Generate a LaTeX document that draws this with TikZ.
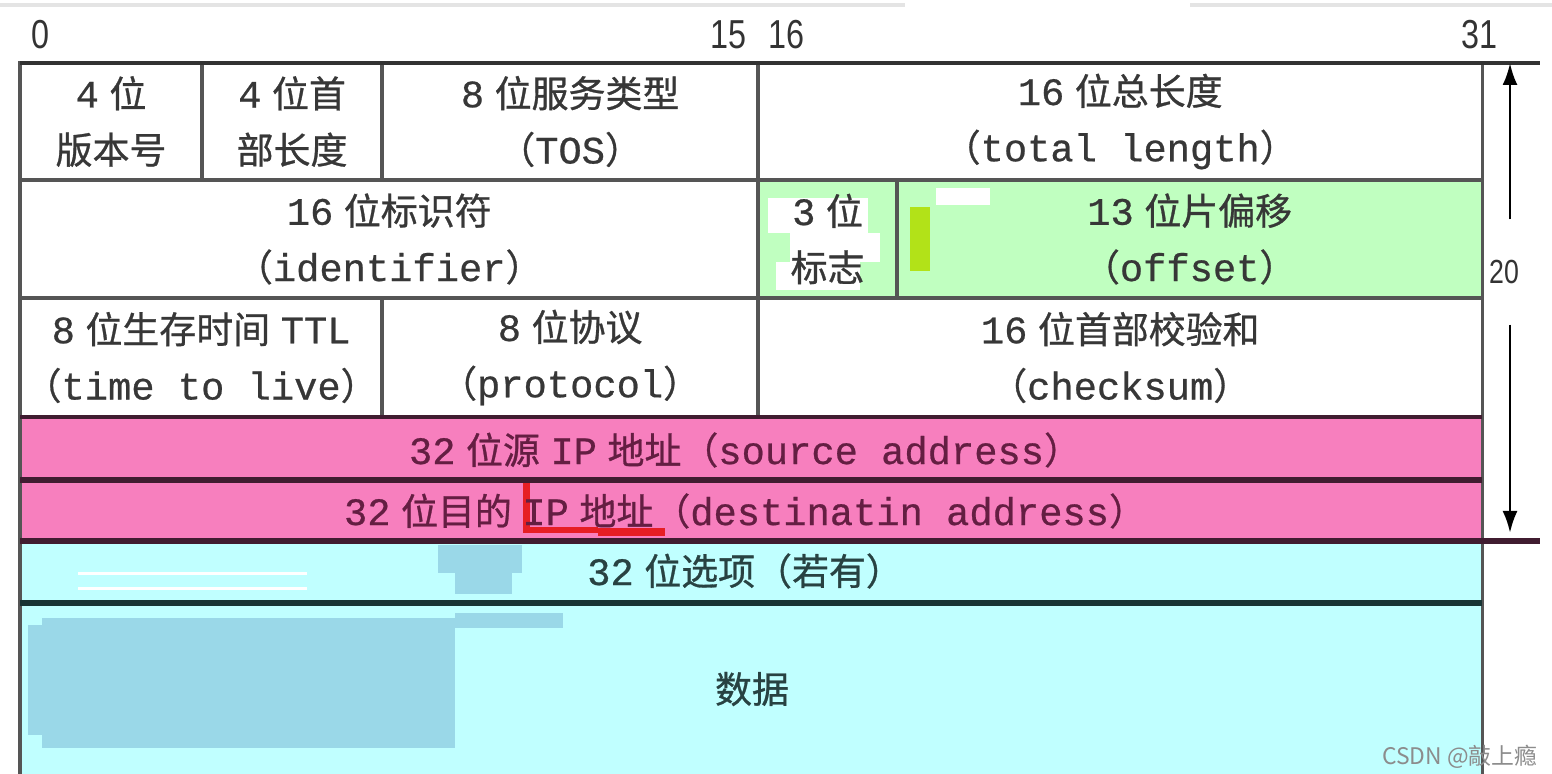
\documentclass[tikz,border=0pt]{standalone}
\usepackage{fontspec}
\setmainfont[Scale=1.05,FakeBold=0.6]{Liberation Mono}
\newfontfamily\cjk[FakeBold=0.8]{Noto Sans CJK SC}
\newfontfamily\cjkplain{Noto Sans CJK SC}
\newfontfamily\numf[FakeStretch=0.8]{Liberation Sans}
\usetikzlibrary{arrows.meta}
\newcommand{\zh}[1]{{\cjk #1}}
\newcommand{\gap}{\hspace{3pt}}
\definecolor{cellline}{RGB}{85,85,85}
\definecolor{darkline}{RGB}{50,50,50}
\definecolor{pinkline}{RGB}{64,28,48}
\definecolor{cyanline}{RGB}{24,52,52}
\definecolor{greenfill}{RGB}{192,255,192}
\definecolor{pinkfill}{RGB}{247,127,190}
\definecolor{cyanfill}{RGB}{192,255,255}
\definecolor{blobblue}{RGB}{154,216,232}
\definecolor{limefill}{RGB}{178,226,24}
\definecolor{redmark}{RGB}{230,30,36}
\definecolor{txtgray}{RGB}{55,55,55}
\definecolor{txtpink}{RGB}{100,30,66}
\definecolor{txtcyan}{RGB}{40,66,66}
\definecolor{faint}{RGB}{228,228,228}
\begin{document}
\begin{tikzpicture}[x=0.01cm,y=-0.01cm,
  cellbox/.style={draw=cellline, line width=0.9pt, anchor=north west, inner sep=0pt, outer sep=0pt},
  lbl/.style={align=center, font=\fontsize{10.5}{16}\selectfont, text=txtgray, inner sep=0pt},
  pinklbl/.style={lbl, text=txtpink},
  cyanlbl/.style={lbl, text=txtcyan},
  bitnum/.style={font=\numf\fontsize{11.5}{12}\selectfont, text=black!80, inner sep=0pt},
  arrowline/.style={black, line width=0.8pt, -{Latex[length=0.22cm, width=0.15cm]}}]
\useasboundingbox (0,0) rectangle (1552,774);
\fill[white] (0,0) rectangle (1552,774);
% faint top line
\draw[faint, line width=1pt] (0,5) -- (905,5);
\draw[faint, line width=1pt] (1190,5) -- (1552,5);

% bit numbers
\node[bitnum] (b0) at (40,35) {0};
\node[bitnum] (b15) at (728,35) {15};
\node[bitnum] (b16) at (786,35) {16};
\node[bitnum] (b31) at (1479,35) {31};

% row 1
\node[cellbox, minimum width=1.82cm, minimum height=1.17cm] (ver) at (20,63) {};
\node[cellbox, minimum width=1.80cm, minimum height=1.17cm] (ihl) at (202,63) {};
\node[cellbox, minimum width=3.76cm, minimum height=1.17cm] (tos) at (382,63) {};
\node[cellbox, minimum width=7.24cm, minimum height=1.17cm] (tlen) at (758,63) {};
% row 2
\node[cellbox, minimum width=7.38cm, minimum height=1.18cm] (ident) at (20,180) {};
\node[cellbox, fill=greenfill, minimum width=1.39cm, minimum height=1.18cm] (flags) at (758,180) {};
\node[cellbox, fill=greenfill, minimum width=5.85cm, minimum height=1.18cm] (offs) at (897,180) {};
% row 3
\node[cellbox, minimum width=3.62cm, minimum height=1.19cm] (ttl) at (20,298) {};
\node[cellbox, minimum width=3.76cm, minimum height=1.19cm] (proto) at (382,298) {};
\node[cellbox, minimum width=7.24cm, minimum height=1.19cm] (csum) at (758,298) {};
% rows 4-7
\node[cellbox, fill=pinkfill, minimum width=14.62cm, minimum height=0.63cm] (src) at (20,417) {};
\node[cellbox, fill=pinkfill, minimum width=14.62cm, minimum height=0.61cm] (dst) at (20,480) {};
\node[cellbox, fill=cyanfill, minimum width=14.62cm, minimum height=0.62cm] (opt) at (20,541) {};
\node[cellbox, fill=cyanfill, minimum width=14.62cm, minimum height=1.90cm] (data) at (20,603) {};

% heavier separators
\draw[darkline, line width=1.4pt] (20,63) -- (1540,63);
\draw[pinkline, line width=1.3pt] (20,417) -- (1482,417);
\draw[pinkline, line width=1.6pt] (20,480) -- (1482,480);
\draw[pinkline, line width=1.6pt] (20,541) -- (1540,541);
\draw[cyanline, line width=1.5pt] (20,603) -- (1482,603);

% overlay patches seen in the picture
\fill[white] (768,198) rectangle (868,233);
\fill[white] (790,233) rectangle (880,262);
\fill[white] (776,262) rectangle (860,290);
\fill[white] (936,188) rectangle (990,205);
\fill[limefill] (910,207) rectangle (930,271);
\fill[blobblue] (42,618) rectangle (455,748);
\fill[blobblue] (28,625) rectangle (60,735);
\fill[blobblue] (438,545) rectangle (522,573);
\fill[blobblue] (455,573) rectangle (512,594);
\fill[blobblue] (455,613) rectangle (563,628);
\fill[white] (78,572) rectangle (307,575);
\fill[white] (78,587) rectangle (307,590);
\fill[redmark] (523,483) rectangle (530,533);
\fill[redmark] (523,527) rectangle (598,533);
\fill[redmark] (598,528) rectangle (665,536);

% texts
\node[lbl] (tver) at (ver) {4\gap\zh{位}\\\zh{版本号}};
\node[lbl] (tihl) at (ihl) {4\gap\zh{位首}\\\zh{部长度}};
\node[lbl] (ttos) at (tos) {8\gap\zh{位服务类型}\\\zh{（}TOS\zh{）}};
\node[lbl] (ttlen) at (tlen) {16\gap\zh{位总长度}\\\zh{（}total length\zh{）}};
\node[lbl] (tident) at (ident) {16\gap\zh{位标识符}\\\zh{（}identifier\zh{）}};
\node[lbl] (tflags) at (flags) {3\gap\zh{位}\\\zh{标志}};
\node[lbl] (toffs) at (offs) {13\gap\zh{位片偏移}\\\zh{（}offset\zh{）}};
\node[lbl] (tttl) at (ttl) {8\gap\zh{位生存时间}\gap TTL\\\zh{（}time to live\zh{）}};
\node[lbl] (tproto) at (proto) {8\gap\zh{位协议}\\\zh{（}protocol\zh{）}};
\node[lbl] (tcsum) at (csum) {16\gap\zh{位首部校验和}\\\zh{（}checksum\zh{）}};
\node[pinklbl] (tsrc) at (745,450) {32\gap\zh{位源}\gap IP\gap\zh{地址（}source address\zh{）}};
\node[pinklbl] (tdst) at (745,511) {32\gap\zh{位目的}\gap IP\gap\zh{地址（}destinatin address\zh{）}};
\node[cyanlbl] (topt) at (745,571) {32\gap\zh{位选项（若有）}};
\node[cyanlbl] (tdata) at (752,689) {\zh{数据}};

% 20-byte arrow
\coordinate (atop) at (1510,63);
\coordinate (abot) at (1510,533);
\node[bitnum, font=\numf\fontsize{9.5}{10}\selectfont, inner ysep=0.4cm] (n20) at (1504,272) {20};
\draw[arrowline] (n20.north -| atop) -- (atop);
\draw[arrowline] (n20.south -| abot) -- (abot);

% watermark
\node[font=\cjkplain\fontsize{6.5}{7}\selectfont, text=black!45, anchor=east, inner sep=0pt] (wm) at (1538,757) {CSDN @敲上瘾};
\end{tikzpicture}
\end{document}
